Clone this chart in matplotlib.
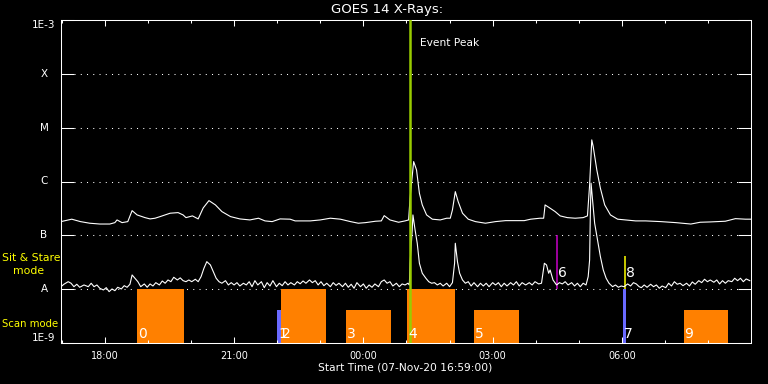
import datetime as dt
import numpy as np
import matplotlib
matplotlib.use("Agg")
import matplotlib.pyplot as plt
import matplotlib.dates as mdates
from matplotlib.ticker import NullLocator

start = dt.datetime(2020, 11, 7, 16, 59, 0)
span_min = 960

# 1-8 A channel: minutes after start, log10 flux
long_min = [0, 15, 27, 40, 54, 68, 75, 78, 85, 93,
            99, 106, 117, 124, 131, 138, 152, 163, 170, 174,
            183, 191, 198, 206, 215, 224, 236, 249, 263, 275,
            284, 294, 305, 319, 326, 337, 347, 361, 375, 389,
            403, 414, 424, 438, 446, 450, 458, 470, 479, 484,
            486, 491, 495, 499, 503, 509, 517, 528, 537, 542,
            545, 549, 553, 559, 567, 577, 591, 605, 619, 633,
            645, 654, 667, 672, 674, 681, 688, 695, 705, 716,
            727, 733, 736, 739, 741, 746, 751, 757, 765, 775,
            786, 800, 814, 835, 856, 877, 890, 904, 925, 939,
            953, 960]
long_log = [-6.745, -6.700, -6.745, -6.775, -6.790, -6.790, -6.764, -6.714, -6.764, -6.745,
            -6.541, -6.621, -6.671, -6.695, -6.682, -6.652, -6.589, -6.578, -6.621, -6.671,
            -6.639, -6.695, -6.491, -6.355, -6.435, -6.559, -6.652, -6.695, -6.714, -6.682,
            -6.732, -6.745, -6.695, -6.700, -6.732, -6.732, -6.732, -6.714, -6.682, -6.700,
            -6.745, -6.775, -6.764, -6.738, -6.732, -6.634, -6.714, -6.757, -6.732, -6.714,
            -6.310, -5.630, -5.784, -6.218, -6.435, -6.621, -6.700, -6.714, -6.682, -6.682,
            -6.528, -6.188, -6.374, -6.589, -6.700, -6.745, -6.775, -6.745, -6.727, -6.727,
            -6.727, -6.700, -6.682, -6.682, -6.435, -6.496, -6.559, -6.639, -6.671, -6.682,
            -6.671, -6.639, -6.063, -5.227, -5.351, -5.784, -6.125, -6.435, -6.621, -6.700,
            -6.714, -6.732, -6.732, -6.745, -6.764, -6.790, -6.757, -6.751, -6.738, -6.690,
            -6.700, -6.700]

# 0.5-4 A channel
short_min = [0, 4, 10, 14, 18, 22, 26, 32, 38, 42,
             46, 50, 54, 59, 63, 67, 71, 75, 79, 84,
             88, 92, 96, 99, 103, 107, 111, 116, 120, 124,
             128, 132, 137, 141, 145, 149, 153, 157, 162, 166,
             170, 174, 178, 182, 187, 191, 195, 199, 203, 208,
             212, 216, 220, 224, 229, 233, 237, 241, 245, 249,
             254, 258, 262, 266, 270, 274, 279, 283, 287, 291,
             295, 300, 304, 308, 312, 316, 320, 325, 329, 333,
             337, 341, 346, 350, 354, 358, 362, 366, 370, 375,
             379, 383, 387, 392, 396, 400, 404, 408, 412, 417,
             421, 425, 429, 433, 437, 442, 446, 450, 454, 458,
             462, 467, 471, 475, 479, 483, 485, 486, 489, 490,
             493, 496, 499, 503, 508, 512, 516, 520, 524, 528,
             532, 537, 541, 545, 548, 549, 552, 555, 559, 563,
             567, 571, 575, 580, 584, 588, 592, 596, 601, 605,
             609, 613, 617, 621, 626, 630, 634, 638, 642, 647,
             652, 656, 660, 665, 669, 673, 676, 679, 681, 685,
             690, 694, 698, 702, 706, 711, 715, 719, 723, 727,
             731, 734, 736, 737, 738, 743, 747, 751, 755, 759,
             763, 768, 772, 776, 780, 784, 789, 793, 797, 801,
             805, 808, 812, 816, 821, 825, 829, 833, 837, 842,
             846, 850, 854, 858, 862, 866, 871, 875, 879, 883,
             888, 892, 896, 900, 904, 909, 913, 917, 921, 925,
             929, 934, 938, 942, 946, 950, 954, 959]
short_log = [-7.954, -7.909, -7.861, -7.890, -7.954, -7.909, -7.965, -7.922, -7.954, -7.890,
             -7.954, -7.922, -7.983, -8.015, -7.972, -8.046, -7.996, -8.028, -7.965, -7.996,
             -7.935, -7.965, -7.909, -7.736, -7.797, -7.861, -7.954, -7.903, -7.965, -7.903,
             -7.941, -7.879, -7.922, -7.848, -7.890, -7.829, -7.861, -7.779, -7.829, -7.790,
             -7.842, -7.861, -7.829, -7.861, -7.816, -7.861, -7.768, -7.612, -7.489, -7.550,
             -7.675, -7.797, -7.861, -7.890, -7.842, -7.922, -7.879, -7.922, -7.879, -7.941,
             -7.890, -7.922, -7.861, -7.954, -7.842, -7.922, -7.861, -7.972, -7.879, -7.941,
             -7.842, -7.954, -7.890, -7.935, -7.861, -7.922, -7.879, -7.922, -7.861, -7.900,
             -7.848, -7.890, -7.829, -7.879, -7.842, -7.922, -7.861, -7.935, -7.890, -7.954,
             -7.879, -7.930, -7.890, -7.954, -7.890, -7.965, -7.909, -7.983, -7.879, -7.954,
             -7.903, -7.983, -7.922, -7.965, -7.903, -7.954, -7.861, -7.829, -7.890, -7.861,
             -7.941, -7.890, -7.954, -7.903, -7.922, -7.890, -7.922, -7.519, -6.900, -6.621,
             -6.900, -7.147, -7.519, -7.704, -7.797, -7.861, -7.890, -7.879, -7.922, -7.890,
             -7.941, -7.890, -7.954, -7.879, -7.519, -7.147, -7.489, -7.704, -7.829, -7.890,
             -7.861, -7.941, -7.879, -7.954, -7.890, -7.941, -7.890, -7.954, -7.879, -7.922,
             -7.879, -7.954, -7.890, -7.941, -7.879, -7.922, -7.861, -7.941, -7.879, -7.922,
             -7.879, -7.922, -7.861, -7.903, -7.890, -7.519, -7.550, -7.704, -7.643, -7.829,
             -7.922, -7.879, -7.903, -7.861, -7.922, -7.879, -7.941, -7.890, -7.954, -7.890,
             -7.922, -7.768, -7.457, -6.589, -6.032, -6.775, -7.086, -7.396, -7.643, -7.797,
             -7.890, -7.954, -7.922, -7.965, -7.941, -7.954, -7.903, -7.941, -7.879, -7.903,
             -7.954, -7.972, -7.922, -7.965, -7.909, -7.954, -7.922, -7.983, -7.941, -7.972,
             -7.890, -7.941, -7.861, -7.909, -7.890, -7.935, -7.890, -7.941, -7.866, -7.909,
             -7.842, -7.879, -7.816, -7.861, -7.829, -7.872, -7.829, -7.903, -7.842, -7.890,
             -7.842, -7.861, -7.797, -7.842, -7.797, -7.861, -7.810, -7.842]

level_vals = [1e-9, 1e-8, 1e-7, 1e-6, 1e-5, 1e-4, 1e-3]
level_names = ['1E-9', 'A', 'B', 'C', 'M', 'X', '1E-3']

# observing events (minutes after start)
event_names = ['0', '1', '2', '3', '4', '5', '6', '7', '8', '9']
event_start = [106, 301, 307, 397, 482, 575, 691, 782, 785, 867]
event_end = [171, 307, 369, 460, 549, 637, 691, 786, 785, 929]
event_low = [1e-9, 1e-9, 1e-9, 1e-9, 1e-9, 1e-9, 1e-8, 1e-9, 1e-8, 1e-9]
event_high = [1e-8, 4.1e-9, 1e-8, 4.1e-9, 1e-8, 4.1e-9, 1e-7, 1e-8, 4.1e-8, 4.1e-9]
event_color = ['#ff8000', '#6a6aff', '#ff8000', '#ff8000', '#ff8000',
               '#ff8000', '#c800c8', '#6a6aff', '#ffff00', '#ff8000']
peak_min = 486


def to_num(minutes):
    return mdates.date2num([start + dt.timedelta(minutes=m) for m in minutes])


fig = plt.figure(figsize=(7.68, 3.84), dpi=100, facecolor='black')
ax = fig.add_axes([61 / 768, 41 / 384, 689.5 / 768, 323 / 384])
ax.set_facecolor('black')
ax.set_yscale('log')
ax.set_ylim(1e-9, 1e-3)
ax.set_xlim(to_num([0, span_min]))

# dotted level lines
frac = 13 / 689.5
for v in level_vals[1:-1]:
    ax.axhline(v, xmin=frac, xmax=1 - frac, color='white', lw=0.75, ls=(0, (1, 5)), zorder=1)

# events
for name, s, e, lo, hi, c in zip(event_names, event_start, event_end, event_low, event_high, event_color):
    x0, x1 = to_num([s, e])
    if e > s:
        ax.bar(x0, hi - lo, width=x1 - x0, bottom=lo, align='edge', color=c, lw=0, zorder=1.5)
        ax.annotate(name, (x0, lo), xytext=(0.6, 3.6), textcoords='offset points',
                    color='white', fontsize=10, ha='left', va='baseline', zorder=6)
    else:
        ax.vlines(x0, lo, hi, color=c, lw=1.1, zorder=1.5)
        ax.annotate(name, (x0, lo), xytext=(0.7, 8.6), textcoords='offset points',
                    color='white', fontsize=10, ha='left', va='baseline', zorder=6)

ax.plot(to_num(long_min), 10.0 ** np.array(long_log), color='white', lw=0.8, zorder=3)
ax.plot(to_num(short_min), 10.0 ** np.array(short_log), color='white', lw=0.8, zorder=3)

pk = to_num([peak_min])[0]
ax.axvline(pk, color='#99cc00', lw=1.8, zorder=5)
ax.annotate('Event Peak', (pk, 1e-3), xytext=(7.2, -16.5), textcoords='offset points',
            color='white', fontsize=7.7, ha='left', va='center')

# axes styling
for sp in ax.spines.values():
    sp.set_color('white')
    sp.set_linewidth(0.75)
ax.set_yticks(level_vals)
ax.yaxis.set_minor_locator(NullLocator())
ax.tick_params(axis='y', which='major', direction='in', length=9.4, width=0.75,
               left=True, right=True, labelleft=False, color='white')
ax.xaxis.set_major_locator(mdates.HourLocator(byhour=range(0, 24, 3)))
ax.xaxis.set_minor_locator(mdates.HourLocator())
ax.xaxis.set_major_formatter(mdates.DateFormatter('%H:%M'))
ax.tick_params(axis='x', which='major', direction='in', length=4, width=0.75,
               top=True, bottom=True, color='white', labelcolor='white', labelsize=7, pad=6)
ax.tick_params(axis='x', which='minor', direction='in', length=2.2, width=0.75,
               top=True, bottom=True, color='white')

ytr = ax.get_yaxis_transform()
for v, n in zip(level_vals, level_names):
    va = 'center'
    if n == '1E-3':
        va = 'top'
    elif n == '1E-9':
        va = 'bottom'
    ax.text(-17 / 689.5, v, n, transform=ytr, ha='center', va=va, color='white', fontsize=7.5)

fig.text(387 / 768, 1 - 9.5 / 384, 'GOES 14 X-Rays:', ha='center', va='center',
         color='white', fontsize=9.5)
fig.text(405.5 / 768, 1 - 368 / 384, 'Start Time (07-Nov-20 16:59:00)', ha='center',
         va='center', color='white', fontsize=7.7)
fig.text(2 / 768, 1 - 258 / 384, 'Sit & Stare', ha='left', va='center', color='yellow', fontsize=7.8)
fig.text(12.7 / 768, 1 - 271 / 384, 'mode', ha='left', va='center', color='yellow', fontsize=7.8)
fig.text(2 / 768, 1 - 324 / 384, 'Scan mode', ha='left', va='center', color='yellow', fontsize=7.3)

fig.savefig('out.png', dpi=100, facecolor='black')
